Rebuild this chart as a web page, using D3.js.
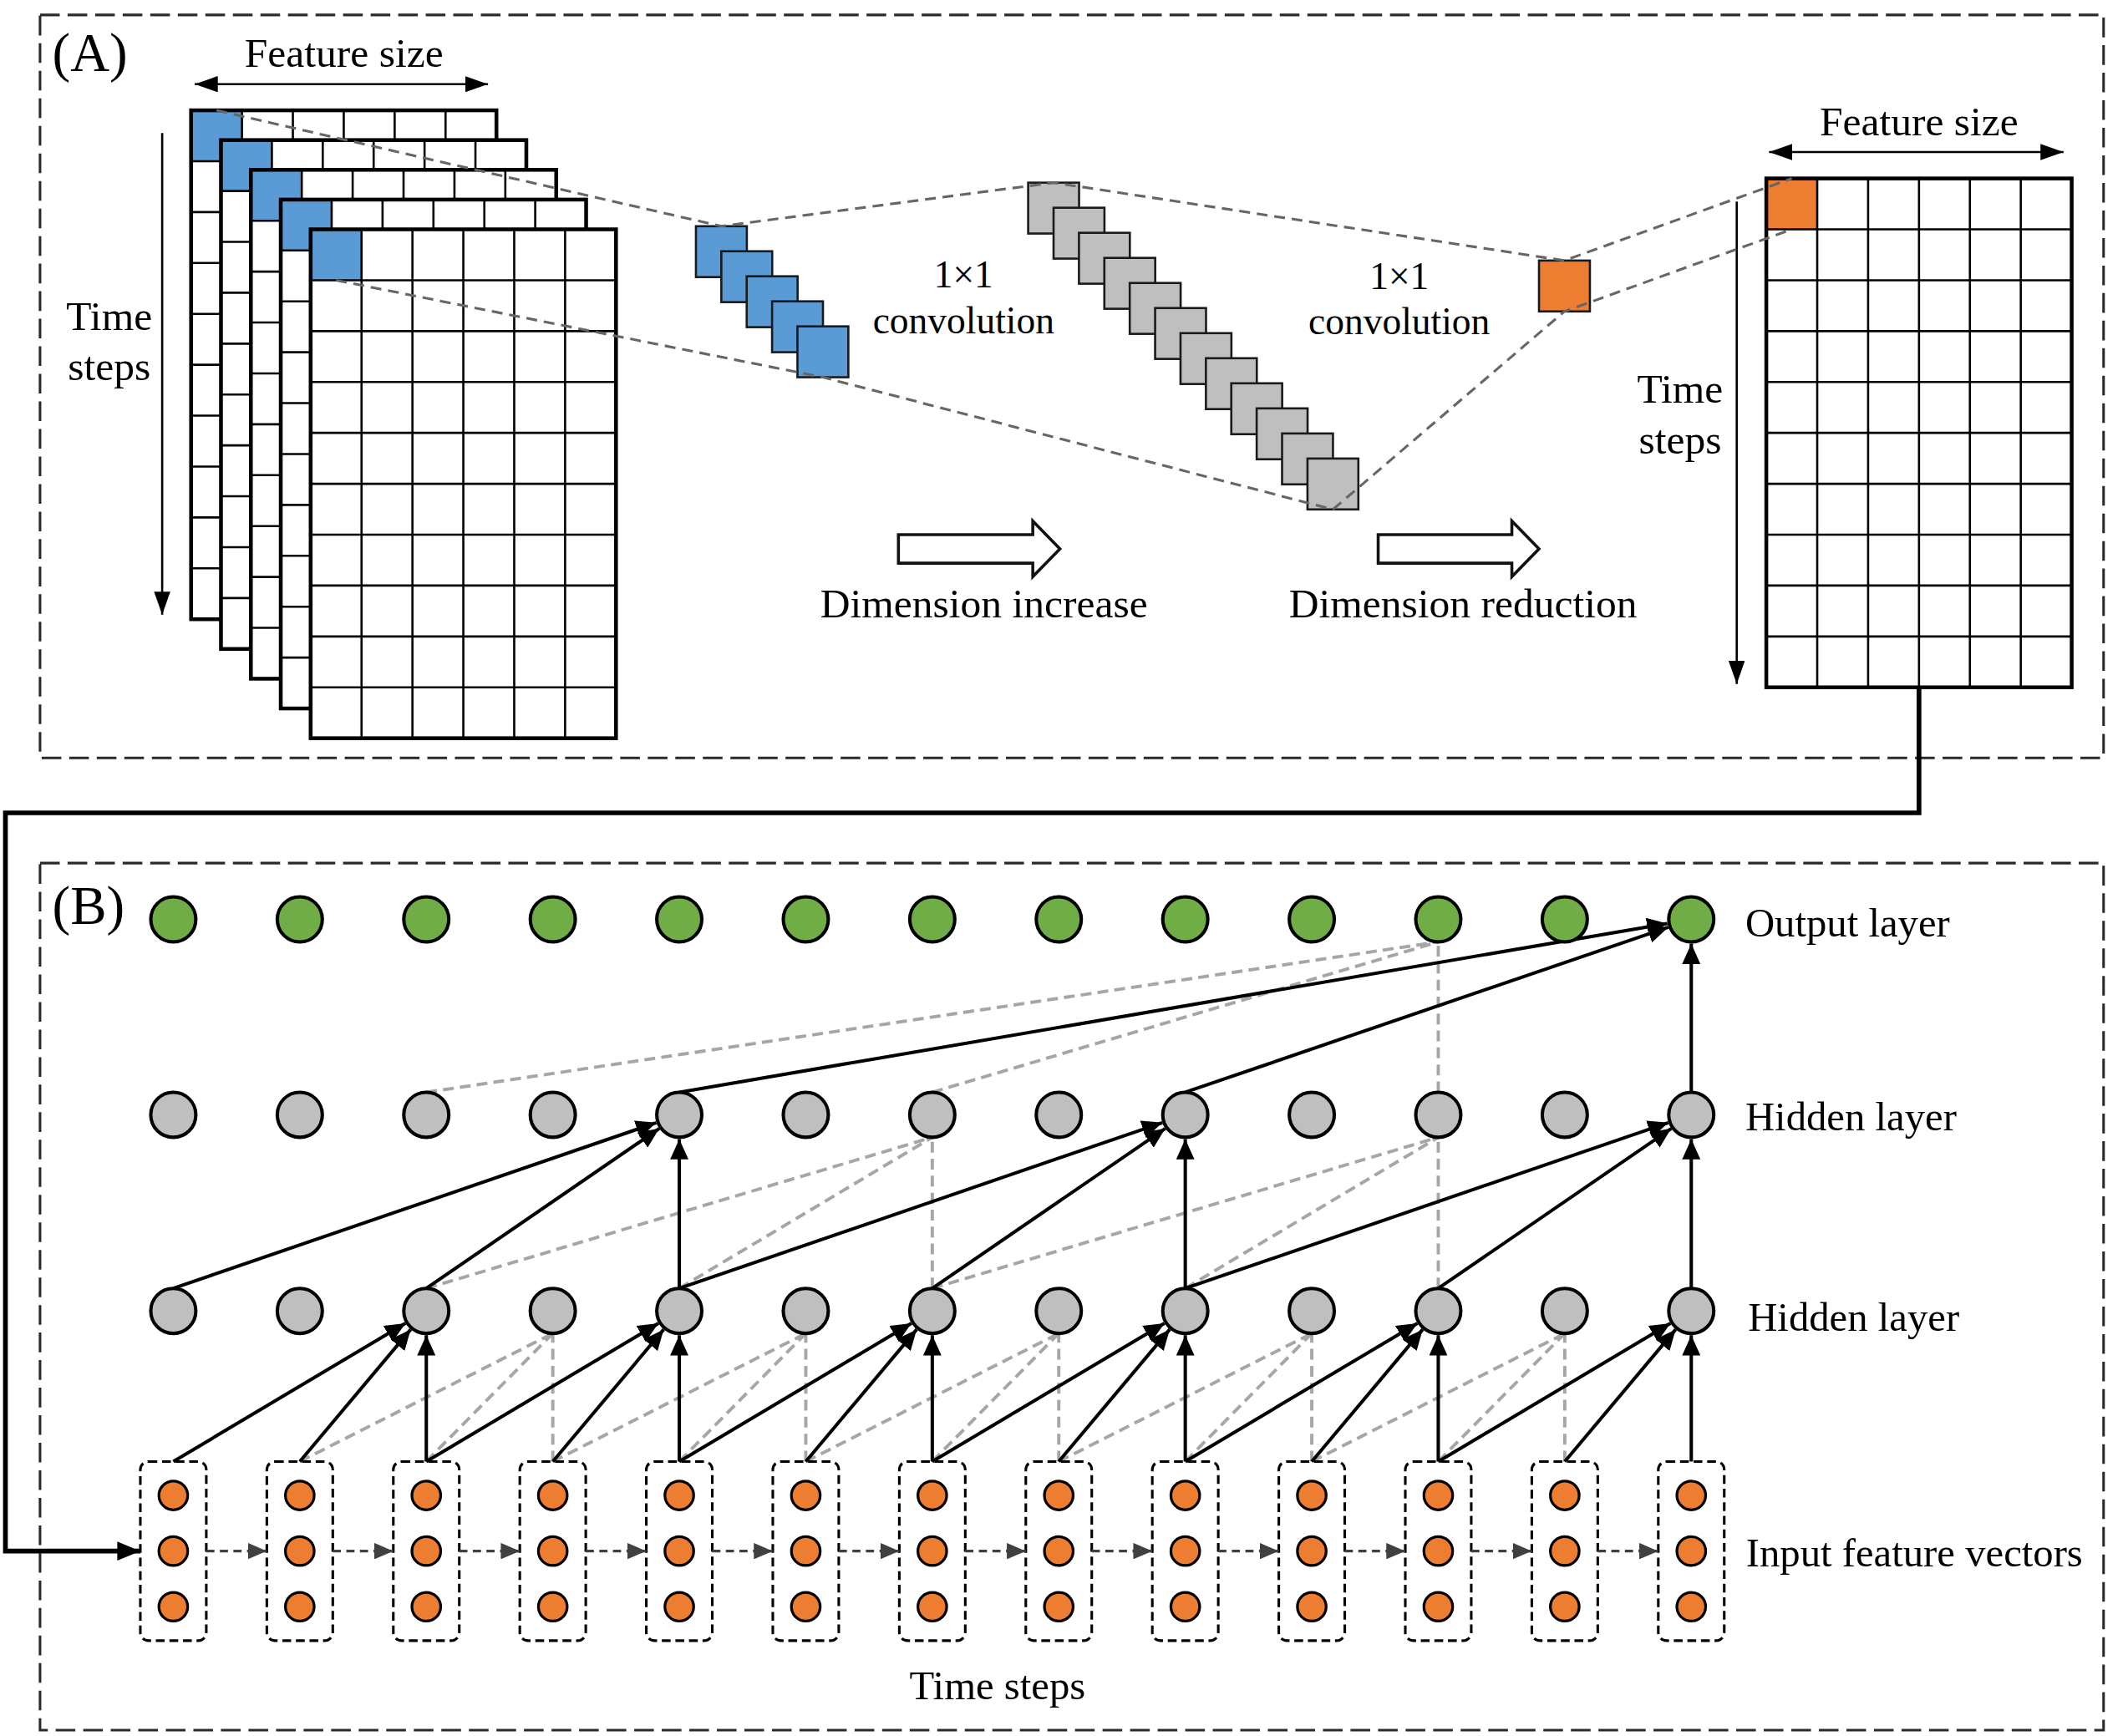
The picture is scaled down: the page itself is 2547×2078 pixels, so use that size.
<!DOCTYPE html>
<html>
<head>
<meta charset="utf-8">
<script src="https://cdn.jsdelivr.net/npm/d3@7"></script>
<style>
  html, body { margin: 0; padding: 0; background: #ffffff; }
  svg { display: block; }
</style>
</head>
<body>
<script>
// ------------------------------------------------------------------
// DATA
// ------------------------------------------------------------------
const featureColumns   = [0, 1, 2, 3, 4, 5];                 // feature size (cells per row)
const timeRows         = [0, 1, 2, 3, 4, 5, 6, 7, 8, 9];      // time steps (cells per column)
const inputChannels    = [0, 1, 2, 3, 4];                     // stacked input maps
const expandedChannels = [0, 1, 2, 3, 4, 5, 6, 7, 8, 9, 10, 11]; // after 1x1 conv (increase)
const panelLabels      = ["(A)", "(B)"];
const axisLabels       = ["Feature size", "Time", "steps", "Time steps"];
const convLabels       = ["1\u00D71", "convolution"];
const stageLabels      = ["Dimension increase", "Dimension reduction"];

const timeSteps        = [0, 1, 2, 3, 4, 5, 6, 7, 8, 9, 10, 11, 12];
const featuresPerStep  = [0, 1, 2];
const layerNames       = ["Input feature vectors", "Hidden layer", "Hidden layer", "Output layer"];
const dilations        = [1, 2, 4];
const kernelTaps       = [0, 1, 2];
const solidTargets     = [[2, 4, 6, 8, 10, 12], [4, 8, 12], [12]];
const dashedTargets    = [[3, 5, 7, 9, 11], [6, 10], [10]];

// ------------------------------------------------------------------
// SETUP
// ------------------------------------------------------------------
const W = 2547, H = 2078;
const VW = 1568, VH = VW * H / W;
const FONT = "'Liberation Serif', 'Times New Roman', serif";
const BLUE = "#5b9bd5", ORANGE = "#ed7d31", GREY = "#bfbfbf", GREEN = "#70ad47";

const svg = d3.select("body").append("svg")
  .attr("width", W).attr("height", H)
  .attr("viewBox", `0 0 ${VW} ${VH}`)
  .style("background", "#fff");

const defs = svg.append("defs");
function marker(id, color, len, wid) {
  defs.append("marker")
    .attr("id", id)
    .attr("viewBox", `0 ${-wid / 2} ${len} ${wid}`)
    .attr("refX", len).attr("refY", 0)
    .attr("markerWidth", len).attr("markerHeight", wid)
    .attr("markerUnits", "userSpaceOnUse")
    .attr("orient", "auto-start-reverse")
    .append("path")
    .attr("d", `M0,${-wid / 2}L${len},0L0,${wid / 2}Z`)
    .attr("fill", color);
}
marker("ahBlack", "#000", 15, 13.5);
marker("ahAxis", "#000", 17, 12);
marker("ahDark", "#404040", 14, 12);
marker("ahConn", "#000", 17, 14);

function text(g, str, x, y, size, anchor) {
  return g.append("text")
    .attr("x", x).attr("y", y)
    .attr("font-family", FONT)
    .attr("font-size", size)
    .attr("text-anchor", anchor || "middle")
    .attr("fill", "#000")
    .text(str);
}

function frame(g, x0, y0, x1, y1) {
  g.append("rect")
    .attr("x", x0).attr("y", y0)
    .attr("width", x1 - x0).attr("height", y1 - y0)
    .attr("fill", "none")
    .attr("stroke", "#2a2a2a")
    .attr("stroke-width", 1.9)
    .attr("stroke-dasharray", "14.5,5.8");
}

// ------------------------------------------------------------------
// PANEL A
// ------------------------------------------------------------------
const gA = svg.append("g");
frame(gA, 29.5, 11, 1550, 558.5);
text(gA, panelLabels[0], 38.5, 52.5, 40, "start");

const CELL = 37.5;
const cellX = d3.scaleBand().domain(featureColumns).range([0, CELL * featureColumns.length]);
const cellY = d3.scaleBand().domain(timeRows).range([0, CELL * timeRows.length]);
const gridW = cellX.range()[1], gridH = cellY.range()[1];

function drawGrid(g, x0, y0, firstColor) {
  const gg = g.append("g").attr("transform", `translate(${x0},${y0})`);
  gg.append("rect").attr("width", gridW).attr("height", gridH).attr("fill", "#fff");
  gg.append("rect")
    .attr("x", cellX(0)).attr("y", cellY(0))
    .attr("width", cellX.bandwidth()).attr("height", cellY.bandwidth())
    .attr("fill", firstColor);
  gg.selectAll("line.v").data(featureColumns.slice(1)).join("line")
    .attr("x1", d => cellX(d)).attr("x2", d => cellX(d))
    .attr("y1", 0).attr("y2", gridH)
    .attr("stroke", "#000").attr("stroke-width", 1.6);
  gg.selectAll("line.h").data(timeRows.slice(1)).join("line")
    .attr("x1", 0).attr("x2", gridW)
    .attr("y1", d => cellY(d)).attr("y2", d => cellY(d))
    .attr("stroke", "#000").attr("stroke-width", 1.6);
  gg.append("rect").attr("width", gridW).attr("height", gridH)
    .attr("fill", "none").attr("stroke", "#000").attr("stroke-width", 2.8);
}

// stacked input maps
const stackX = d3.scaleLinear().domain([0, inputChannels.length - 1]).range([140.8, 228.9]);
const stackY = d3.scaleLinear().domain([0, inputChannels.length - 1]).range([81.3, 169]);
inputChannels.forEach(c => drawGrid(gA, stackX(c), stackY(c), BLUE));

// left axis annotations
text(gA, axisLabels[0], 253.5, 49.5, 30.5);
gA.append("line")
  .attr("x1", 143.5).attr("x2", 359.6).attr("y1", 62).attr("y2", 62)
  .attr("stroke", "#000").attr("stroke-width", 1.6)
  .attr("marker-start", "url(#ahAxis)").attr("marker-end", "url(#ahAxis)");
text(gA, axisLabels[1], 80.5, 243, 30.5);
text(gA, axisLabels[2], 80.5, 280, 30.5);
gA.append("line")
  .attr("x1", 119.5).attr("x2", 119.5).attr("y1", 98).attr("y2", 453)
  .attr("stroke", "#000").attr("stroke-width", 1.6)
  .attr("marker-end", "url(#ahAxis)");

// small squares (channels)
const SQ = 37.5;
const blueX = d3.scaleLinear().domain([0, inputChannels.length - 1]).range([512.8, 587.6]);
const blueY = d3.scaleLinear().domain([0, inputChannels.length - 1]).range([166.7, 240.5]);
gA.selectAll("rect.blue").data(inputChannels).join("rect")
  .attr("x", d => blueX(d)).attr("y", d => blueY(d))
  .attr("width", SQ).attr("height", SQ)
  .attr("fill", BLUE).attr("stroke", "#1a1a1a").attr("stroke-width", 1.6);

const greyX = d3.scaleLinear().domain([0, expandedChannels.length - 1]).range([757.6, 963.4]);
const greyY = d3.scaleLinear().domain([0, expandedChannels.length - 1]).range([134.6, 337.9]);
gA.selectAll("rect.grey").data(expandedChannels).join("rect")
  .attr("x", d => greyX(d)).attr("y", d => greyY(d))
  .attr("width", SQ).attr("height", SQ)
  .attr("fill", GREY).attr("stroke", "#1a1a1a").attr("stroke-width", 1.6);

const orangeX = 1134, orangeY = 192;
gA.append("rect")
  .attr("x", orangeX).attr("y", orangeY).attr("width", SQ).attr("height", SQ)
  .attr("fill", ORANGE).attr("stroke", "#1a1a1a").attr("stroke-width", 1.6);

// output map
const outX = 1301.5, outY = 131.5;
drawGrid(gA, outX, outY, ORANGE);
text(gA, axisLabels[0], 1414, 100, 30.5);
gA.append("line")
  .attr("x1", 1303.5).attr("x2", 1520.5).attr("y1", 112).attr("y2", 112)
  .attr("stroke", "#000").attr("stroke-width", 1.6)
  .attr("marker-start", "url(#ahAxis)").attr("marker-end", "url(#ahAxis)");
text(gA, axisLabels[1], 1238, 296.5, 30.5);
text(gA, axisLabels[2], 1238, 334, 30.5);
gA.append("line")
  .attr("x1", 1279.7).attr("x2", 1279.7).attr("y1", 148.5).attr("y2", 504)
  .attr("stroke", "#000").attr("stroke-width", 1.6)
  .attr("marker-end", "url(#ahAxis)");

// dashed projection lines
const lastIn = inputChannels.length - 1, lastEx = expandedChannels.length - 1;
const topPath = [
  [stackX(0) + CELL / 2, stackY(0)],
  [blueX(0) + SQ / 2, blueY(0)],
  [greyX(0) + SQ / 2, greyY(0)],
  [orangeX + SQ / 2, orangeY],
  [outX + CELL / 2, outY]
];
const bottomPath = [
  [stackX(lastIn) + CELL / 2, stackY(lastIn) + CELL],
  [blueX(lastIn) + SQ / 2, blueY(lastIn) + SQ],
  [greyX(lastEx) + SQ / 2, greyY(lastEx) + SQ],
  [orangeX + SQ / 2, orangeY + SQ],
  [outX + CELL / 2, outY + CELL]
];
[topPath, bottomPath].forEach(p => {
  gA.append("path")
    .attr("d", d3.line()(p))
    .attr("fill", "none")
    .attr("stroke", "#666")
    .attr("stroke-width", 1.9)
    .attr("stroke-dasharray", "8,5");
});

// conv labels
text(gA, convLabels[0], 710, 212, 28);
text(gA, convLabels[1], 710, 245.5, 28);
text(gA, convLabels[0], 1031, 213, 28);
text(gA, convLabels[1], 1031, 246.5, 28);

// hollow arrows
function hollowArrow(g, x0, xb, tip, cy, bh, hh) {
  g.append("path")
    .attr("d", `M${x0},${cy - bh}L${xb},${cy - bh}L${xb},${cy - hh}L${tip},${cy}L${xb},${cy + hh}L${xb},${cy + bh}L${x0},${cy + bh}Z`)
    .attr("fill", "#fff").attr("stroke", "#111").attr("stroke-width", 2.2);
}
hollowArrow(gA, 662, 761, 781, 404.5, 10.5, 20.5);
hollowArrow(gA, 1015.5, 1114, 1134, 404.5, 10.5, 20.5);
text(gA, stageLabels[0], 725, 455, 30.5);
text(gA, stageLabels[1], 1078, 455, 30.5);

// ------------------------------------------------------------------
// CONNECTOR
// ------------------------------------------------------------------
const x = d3.scalePoint().domain(timeSteps).range([127.7, 1246.2]);
const layerY = d3.scaleOrdinal().domain([0, 1, 2, 3]).range([1143, 966, 821.5, 677.5]);
const R = 16.6, r = 10.6, BOXW = 24.3, BOXH = 66;

svg.append("path")
  .attr("d", `M${outX + gridW / 2},${outY + gridH}V599H4V${layerY(0)}H${x(0) - BOXW}`)
  .attr("fill", "none").attr("stroke", "#000").attr("stroke-width", 3.5)
  .attr("marker-end", "url(#ahConn)");

// ------------------------------------------------------------------
// PANEL B
// ------------------------------------------------------------------
const gB = svg.append("g");
frame(gB, 29.5, 636, 1550, 1275);
text(gB, panelLabels[1], 38.5, 681, 40, "start");

const featY = d3.scalePoint().domain(featuresPerStep).range([-41, 41]);

function topOf(layer, i) {
  return layer === 0 ? [x(i), layerY(0) - BOXH] : [x(i), layerY(layer) - R];
}

// connections
const gDash = gB.append("g");
const gSolid = gB.append("g");
dilations.forEach((d, li) => {
  const L = li + 1;
  dashedTargets[li].forEach(t => {
    kernelTaps.forEach(k => {
      const s = t - k * d;
      if (s < 0) return;
      const [sx, sy] = topOf(L - 1, s);
      gDash.append("line")
        .attr("x1", sx).attr("y1", sy)
        .attr("x2", x(t)).attr("y2", layerY(L) + R)
        .attr("stroke", "#a6a6a6").attr("stroke-width", 2.4)
        .attr("stroke-dasharray", "8,4.5");
    });
  });
  solidTargets[li].forEach(t => {
    kernelTaps.forEach(k => {
      const s = t - k * d;
      if (s < 0) return;
      const [sx, sy] = topOf(L - 1, s);
      const cx = x(t), cy = layerY(L);
      const dx = cx - sx, dy = cy - sy, len = Math.hypot(dx, dy);
      const ex = cx - dx / len * (R + 1.3), ey = cy - dy / len * (R + 1.3);
      gSolid.append("line")
        .attr("x1", sx).attr("y1", sy)
        .attr("x2", ex).attr("y2", ey)
        .attr("stroke", "#000").attr("stroke-width", 2.5)
        .attr("marker-end", "url(#ahBlack)");
    });
  });
});

// input boxes
const gIn = gB.append("g");
timeSteps.forEach(i => {
  gIn.append("rect")
    .attr("x", x(i) - BOXW).attr("y", layerY(0) - BOXH)
    .attr("width", BOXW * 2).attr("height", BOXH * 2)
    .attr("rx", 6).attr("ry", 6)
    .attr("fill", "none").attr("stroke", "#000").attr("stroke-width", 1.9)
    .attr("stroke-dasharray", "6.5,3.5");
  featuresPerStep.forEach(f => {
    gIn.append("circle")
      .attr("cx", x(i)).attr("cy", layerY(0) + featY(f)).attr("r", r)
      .attr("fill", ORANGE).attr("stroke", "#000").attr("stroke-width", 2);
  });
});
// time-step arrows between boxes
timeSteps.slice(0, -1).forEach(i => {
  gIn.append("line")
    .attr("x1", x(i) + BOXW).attr("x2", x(i + 1) - BOXW)
    .attr("y1", layerY(0)).attr("y2", layerY(0))
    .attr("stroke", "#404040").attr("stroke-width", 2)
    .attr("stroke-dasharray", "6,4")
    .attr("marker-end", "url(#ahDark)");
});

// neurons
[1, 2, 3].forEach(L => {
  gB.append("g").selectAll("circle").data(timeSteps).join("circle")
    .attr("cx", d => x(d)).attr("cy", layerY(L)).attr("r", R)
    .attr("fill", L === 3 ? GREEN : GREY)
    .attr("stroke", "#000").attr("stroke-width", 2.5);
});

// layer labels
text(gB, layerNames[3], 1286, 690, 30, "start");
text(gB, layerNames[2], 1286, 833, 30, "start");
text(gB, layerNames[1], 1288, 981, 30, "start");
text(gB, layerNames[0], 1286.5, 1154, 30, "start");
text(gB, axisLabels[3], 735, 1252, 30);
</script>
</body>
</html>
